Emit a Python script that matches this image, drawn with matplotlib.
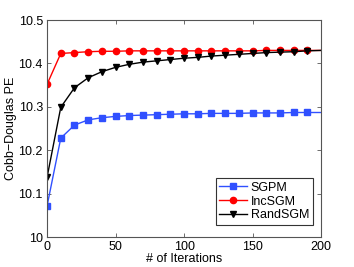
import numpy as np
import matplotlib
matplotlib.use('Agg')
import matplotlib.pyplot as plt

plt.rcParams['font.family'] = ['Liberation Sans', 'DejaVu Sans']

iters = [0, 10, 20, 30, 40, 50, 60, 70, 80, 90, 100,
         110, 120, 130, 140, 150, 160, 170, 180, 190, 200]
sgpm = [10.072, 10.228, 10.258, 10.270, 10.275, 10.278, 10.280, 10.281, 10.282, 10.283, 10.284,
        10.284, 10.285, 10.285, 10.285, 10.286, 10.286, 10.286, 10.287, 10.287, 10.287]
incsgm = [10.352, 10.423, 10.425, 10.427, 10.428, 10.428, 10.429, 10.429, 10.429, 10.429, 10.429,
          10.429, 10.429, 10.429, 10.429, 10.429, 10.430, 10.430, 10.430, 10.430, 10.430]
randsgm = [10.138, 10.299, 10.344, 10.367, 10.381, 10.391, 10.398, 10.403, 10.406, 10.409, 10.412,
           10.414, 10.417, 10.419, 10.421, 10.423, 10.425, 10.426, 10.427, 10.429, 10.430]

fig = plt.figure(figsize=(3.54, 2.67), dpi=100)
ax = fig.add_axes([0.133, 0.112, 0.774, 0.813])

mk = slice(0, 20)
ax.plot(iters, sgpm, color='#3050ff', marker='s', markersize=3.8, lw=1, markevery=mk, label='SGPM')
ax.plot(iters, incsgm, color='red', marker='o', markersize=4.5, lw=1, markevery=mk, label='IncSGM')
ax.plot(iters, randsgm, color='black', marker='v', markersize=4.8, lw=1, markevery=mk, label='RandSGM')

ax.set_xlim(0, 200)
ax.set_ylim(10, 10.5)
ax.set_xticks([0, 50, 100, 150, 200])
ax.set_yticks([10, 10.1, 10.2, 10.3, 10.4, 10.5])
ax.set_yticklabels(['10', '10.1', '10.2', '10.3', '10.4', '10.5'])
ax.tick_params(direction='in', top=True, right=True, labelsize=9, length=3, width=0.6,
               color='#555555', pad=3)
for s in ax.spines.values():
    s.set_color('#555555')
    s.set_linewidth(0.8)

ax.set_xlabel('# of Iterations', fontsize=9, labelpad=0)
ax.set_ylabel('Cobb\u2212Douglas PE', fontsize=9, labelpad=1)

leg = ax.legend(loc='lower right', fontsize=9, fancybox=False, framealpha=1,
                bbox_to_anchor=(0.97, 0.055), borderaxespad=0, handlelength=2.2,
                handletextpad=0.3, labelspacing=0.15, borderpad=0.3)
leg.get_frame().set_edgecolor('#333333')
leg.get_frame().set_linewidth(0.8)

fig.savefig('out.png', dpi=100)
